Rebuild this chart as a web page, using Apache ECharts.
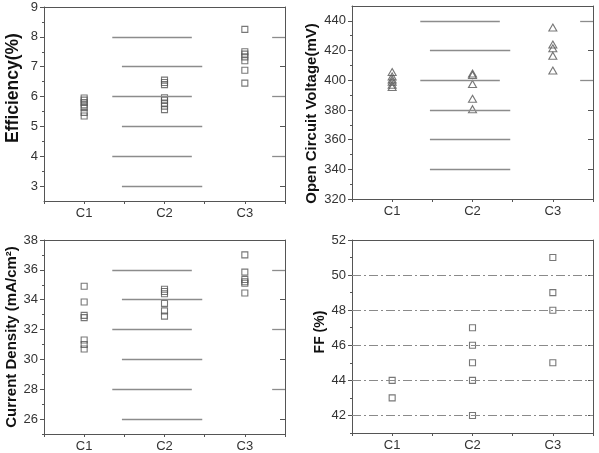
<!DOCTYPE html>
<html>
<head>
<meta charset="utf-8">
<script src="https://cdn.jsdelivr.net/npm/echarts@6/dist/echarts.min.js"></script>
<style>
    html, body { margin: 0; padding: 0; background: #fff; }
    #main { width: 599px; height: 453px; }
</style>
</head>
<body>
<div id="main"></div>
<script>
// categories on the x axis
var categories = ['C1', 'C2', 'C3'];

// Efficiency (%)
var effC1 = [5.95, 5.88, 5.8, 5.72, 5.63, 5.47, 5.35];
var effC2 = [6.55, 6.47, 6.4, 5.96, 5.88, 5.78, 5.68, 5.56];
var effC3 = [8.25, 7.5, 7.42, 7.33, 7.2, 6.88, 6.45];
var effTicks = [3, 4, 5, 6, 7, 8, 9];
var effMinor = [3.5, 4.5, 5.5, 6.5, 7.5, 8.5];

// Open circuit voltage (mV)
var vocC1 = [405.5, 402.5, 400.5, 399, 397, 395.5];
var vocC2 = [404.5, 403.5, 397.5, 387.5, 380.5];
var vocC3 = [435.5, 424, 421.5, 416.5, 406.5];
var vocTicks = [320, 340, 360, 380, 400, 420, 440];
var vocMinor = [330, 350, 370, 390, 410, 430];

// Current density (mA/cm2)
var jscC1 = [34.9, 33.85, 32.95, 32.8, 31.3, 31.0, 30.7];
var jscC2 = [34.7, 34.55, 34.4, 33.75, 33.25, 32.9];
var jscC3 = [37.0, 35.85, 35.35, 35.2, 35.1, 34.45];
var jscTicks = [26, 28, 30, 32, 34, 36, 38];
var jscMinor = [25, 27, 29, 31, 33, 35, 37];

// Fill factor (%)
var ffC1 = [44, 43];
var ffC2 = [47, 46, 45, 44, 42];
var ffC3 = [51, 49, 48, 45];
var ffTicks = [42, 44, 46, 48, 50, 52];
var ffMinor = [41, 43, 45, 47, 49, 51];

// grid line levels (the partly cut lines of the original figure)
var effLinesA = [8, 6, 4];
var effLinesB = [7, 5, 3];
var vocLinesA = [440, 400];
var vocLinesB = [420, 380, 360, 340];
var jscLinesA = [36, 32, 28];
var jscLinesB = [34, 30, 26];
var ffLines = [42, 44, 46, 48, 50];

var AXIS = '#555';
var GRIDC = '#8c8c8c';

var panels = [
    {
        grid: {left: 44, top: 7, width: 241, height: 194},
        min: 2.5, max: 9, ticks: effTicks, minor: effMinor,
        name: 'Efficiency(%)', nameSize: 17.5, nameGap: 22, namePad: [0, 0, 0, 32],
        cols: [effC1, effC2, effC3], symbol: 'rect', symbolSize: 6,
        linesA: effLinesA, linesB: effLinesB
    },
    {
        grid: {left: 352, top: 6, width: 241, height: 193},
        min: 320, max: 450, ticks: vocTicks, minor: vocMinor,
        name: 'Open Circuit Voltage(mV)', nameSize: 15, nameGap: 33, namePad: [0, 22, 0, 0],
        cols: [vocC1, vocC2, vocC3], symbol: 'triangle', symbolSize: [8, 7],
        linesA: vocLinesA, linesB: vocLinesB
    },
    {
        grid: {left: 44, top: 240, width: 241, height: 195},
        min: 25, max: 38, ticks: jscTicks, minor: jscMinor,
        name: 'Current Density (mA/cm²)', nameSize: 15, nameGap: 24, namePad: [0, 0, 0, 0],
        cols: [jscC1, jscC2, jscC3], symbol: 'rect', symbolSize: 6,
        linesA: jscLinesA, linesB: jscLinesB
    },
    {
        grid: {left: 352, top: 240, width: 241, height: 193},
        min: 41, max: 52, ticks: ffTicks, minor: ffMinor,
        name: 'FF (%)', nameSize: 14, nameGap: 22, namePad: [0, 0, 0, 9],
        cols: [ffC1, ffC2, ffC3], symbol: 'rect', symbolSize: 6,
        dashed: ffLines
    }
];

function seg(x1, x2, y, style) {
    return [{coord: [x1, y], lineStyle: style}, {coord: [x2, y]}];
}

var option = {
    backgroundColor: '#fff',
    animation: false,
    textStyle: {fontFamily: '"Liberation Sans", Arial, sans-serif'},
    grid: [], xAxis: [], yAxis: [], series: []
};

panels.forEach(function (p, i) {
    option.grid.push(p.grid);
    // bottom category-like value axis
    option.xAxis.push({
        gridIndex: i, type: 'value', min: 0.5, max: 3.5, interval: 0.5,
        axisLine: {lineStyle: {color: AXIS}},
        axisTick: {show: true, inside: false, length: 3, lineStyle: {color: AXIS}},
        axisLabel: {
            color: '#333', fontSize: 13, margin: 6,
            formatter: function (v) {
                return Math.abs(v - Math.round(v)) < 1e-6 ? (categories[Math.round(v) - 1] || '') : '';
            }
        },
        splitLine: {show: false}
    });
    // top border
    option.xAxis.push({
        gridIndex: i, type: 'value', position: 'top', min: 0.5, max: 3.5,
        axisLine: {show: true, onZero: false, lineStyle: {color: AXIS}},
        axisTick: {show: false}, axisLabel: {show: false}, splitLine: {show: false}
    });
    // left main axis
    option.yAxis.push({
        gridIndex: i, type: 'value', min: p.min, max: p.max,
        name: p.name, nameLocation: 'middle', nameGap: p.nameGap,
        nameTextStyle: {fontSize: p.nameSize, fontWeight: 'bold', color: '#111', padding: p.namePad},
        axisLine: {show: true, onZero: false, lineStyle: {color: AXIS}},
        axisTick: {show: true, length: 4, customValues: p.ticks, lineStyle: {color: AXIS}},
        axisLabel: {color: '#333', fontSize: 13, margin: 6, customValues: p.ticks},
        splitLine: {show: false}
    });
    // left minor ticks
    option.yAxis.push({
        gridIndex: i, type: 'value', min: p.min, max: p.max, position: 'left',
        axisLine: {show: false},
        axisTick: {show: true, length: 2, customValues: p.minor, lineStyle: {color: AXIS}},
        axisLabel: {show: false}, splitLine: {show: false}
    });
    // right border with inward ticks
    option.yAxis.push({
        gridIndex: i, type: 'value', min: p.min, max: p.max, position: 'right',
        axisLine: {show: true, onZero: false, lineStyle: {color: AXIS}},
        axisTick: {show: true, inside: true, length: 5, customValues: p.ticks, lineStyle: {color: AXIS}},
        axisLabel: {show: false}, splitLine: {show: false}
    });

    var lines = [];
    var solid = {color: GRIDC, width: 1.3, type: 'solid'};
    if (p.linesA) {
        p.linesA.forEach(function (y) {
            lines.push(seg(1.35, 2.34, y, solid));
            lines.push(seg(3.34, 3.5, y, solid));
        });
        p.linesB.forEach(function (y) {
            lines.push(seg(1.47, 2.47, y, solid));
        });
    }
    if (p.dashed) {
        p.dashed.forEach(function (y) {
            lines.push(seg(0.5, 3.5, y, {color: '#8a8a8a', width: 1, type: [9, 3, 2, 3]}));
        });
    }

    var pts = [];
    p.cols.forEach(function (col, c) {
        col.forEach(function (v) { pts.push([c + 1, v]); });
    });

    option.series.push({
        type: 'scatter', xAxisIndex: 2 * i, yAxisIndex: 3 * i,
        symbol: p.symbol, symbolSize: p.symbolSize,
        itemStyle: {color: 'rgba(255,255,255,0)', borderColor: '#555', borderWidth: 1.1},
        data: pts,
        markLine: {
            silent: true, symbol: ['none', 'none'], label: {show: false},
            data: lines
        },
        z: 3
    });
});

var chart = echarts.init(document.getElementById('main'));
chart.setOption(option);
</script>
</body>
</html>
